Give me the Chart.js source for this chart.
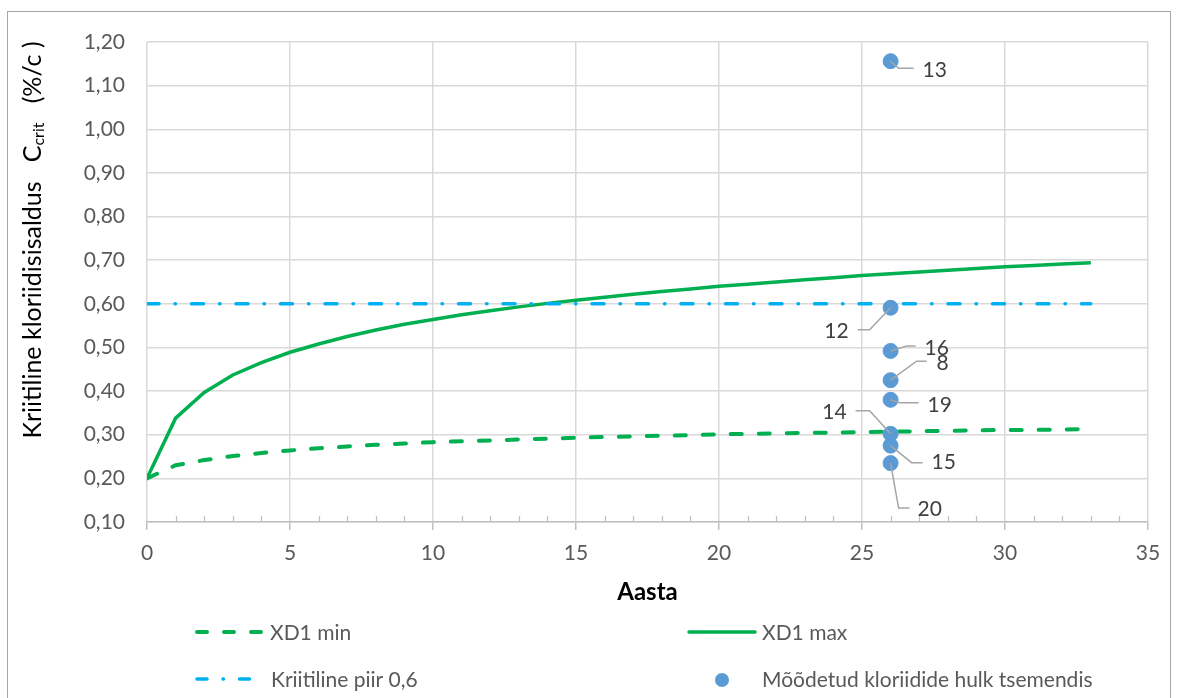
<!DOCTYPE html>
<html>
<head>
<meta charset="utf-8">
<script src="https://cdn.jsdelivr.net/npm/chart.js@4.4.1/dist/chart.umd.min.js"></script>
<style>
  html, body { margin: 0; padding: 0; background: #fff; }
  #wrap { width: 1178px; height: 698px; position: relative; }
</style>
</head>
<body>
<div id="wrap"><canvas id="kloriidChart"></canvas></div>
<script>
const years = [0, 1, 2, 3, 4, 5, 6, 7, 8, 9, 10, 11, 12, 13, 14, 15, 16,
  17, 18, 19, 20, 21, 22, 23, 24, 25, 26, 27, 28, 29, 30, 31, 32, 33];
const xd1Min = [0.200, 0.230, 0.242, 0.251, 0.258, 0.264, 0.269, 0.273, 0.277, 0.280,
  0.283, 0.285, 0.287, 0.289, 0.291, 0.293, 0.295, 0.296, 0.298, 0.299,
  0.301, 0.302, 0.303, 0.304, 0.305, 0.306, 0.307, 0.308, 0.309, 0.310,
  0.311, 0.311, 0.312, 0.313];
const xd1Max = [0.200, 0.338, 0.397, 0.437, 0.465, 0.489, 0.508, 0.525, 0.540, 0.553,
  0.564, 0.575, 0.584, 0.593, 0.601, 0.608, 0.615, 0.622, 0.628, 0.634,
  0.640, 0.645, 0.650, 0.655, 0.660, 0.665, 0.669, 0.673, 0.677, 0.681,
  0.685, 0.688, 0.691, 0.694];
const critLimit = years.map(() => 0.6);
const measuredYear = 26;
const measuredVals = [1.156, 0.591, 0.492, 0.425, 0.380, 0.302, 0.275, 0.235];
const measuredLabels = ["13", "12", "16", "8", "19", "14", "15", "20"];

const GREEN = "#00B050";
const BLUE = "#00B0F0";
const DOT = "#5B9BD5";
const FONT = "Lato, 'Open Sans', sans-serif";

// label placement: text offset + leader polyline (relative to point)
const labelPos = {
  "13": { tx: 32, ty: 9, align: "left", path: [[8, 7], [23, 7]] },
  "12": { tx: -42, ty: 23, align: "right", path: [[-21, 22], [-33, 22]] },
  "16": { tx: 34, ty: -3, align: "left", path: [[16, -5], [25, -5]] },
  "8": { tx: 46, ty: -17, align: "left", path: [[26, -19], [36, -19]] },
  "19": { tx: 37, ty: 5, align: "left", path: [[9, 3], [28, 3]] },
  "14": { tx: -44, ty: -22, align: "right", path: [[-21, -23], [-35, -23]] },
  "15": { tx: 41, ty: 17, align: "left", path: [[21, 17], [32, 17]] },
  "20": { tx: 27, ty: 46, align: "left", path: [[8, 45], [19, 45]] }
};

const toXY = (vals) => vals.map((v, i) => ({ x: years[i], y: v }));

const decorPlugin = {
  id: "decor",
  beforeDraw(chart) {
    const c = chart.ctx;
    c.save();
    c.fillStyle = "#fff";
    c.fillRect(0, 0, chart.width, chart.height);
    c.strokeStyle = "#A6A6A6";
    c.lineWidth = 1;
    c.strokeRect(7.5, 11.5, 1163, 700);
    c.restore();
  },
  afterDraw(chart) {
    const c = chart.ctx;
    const xs = chart.scales.x;
    const area = chart.chartArea;

    // minor ticks on x axis
    c.save();
    c.strokeStyle = "#BFBFBF";
    c.lineWidth = 1.2;
    for (let t = 1; t < 35; t++) {
      if (t % 5 === 0) continue;
      const px = Math.round(xs.getPixelForValue(t)) + 0.5;
      c.beginPath();
      c.moveTo(px, area.bottom - 6);
      c.lineTo(px, area.bottom);
      c.stroke();
    }
    c.restore();

    // point labels with leader lines
    const meta = chart.getDatasetMeta(0);
    c.save();
    c.font = "21px " + FONT;
    c.textBaseline = "middle";
    meta.data.forEach((el, i) => {
      const lab = measuredLabels[i];
      const p = labelPos[lab];
      c.strokeStyle = "#A6A6A6";
      c.lineWidth = 1.5;
      c.beginPath();
      c.moveTo(el.x, el.y);
      p.path.forEach(([dx, dy]) => c.lineTo(el.x + dx, el.y + dy));
      c.stroke();
      c.fillStyle = "#404040";
      c.textAlign = p.align;
      c.fillText(lab, el.x + p.tx, el.y + p.ty);
    });
    c.restore();

    // y axis title with subscript
    c.save();
    c.translate(33, 240);
    c.rotate(-Math.PI / 2);
    c.fillStyle = "#000";
    c.textBaseline = "middle";
    c.textAlign = "left";
    const big = "25px " + FONT, small = "16px " + FONT;
    const parts = [
      ["Kriitiline kloriidisisaldus   C", big, 0],
      ["crit", small, 6],
      ["   (%/c )", big, 0]
    ];
    let total = 0;
    parts.forEach(([t, f]) => { c.font = f; total += c.measureText(t).width; });
    let x = -total / 2;
    parts.forEach(([t, f, dy]) => {
      c.font = f;
      c.fillText(t, x, dy);
      x += c.measureText(t).width;
    });
    c.restore();

    // legend
    const ds = chart.data.datasets;
    c.save();
    c.font = "21px " + FONT;
    c.fillStyle = "#595959";
    c.textBaseline = "middle";
    c.textAlign = "left";
    const line = (d, x1, x2, y) => {
      c.strokeStyle = d.borderColor;
      c.lineWidth = d.borderWidth;
      c.lineCap = "round";
      c.setLineDash(d.legendDash || []);
      c.beginPath();
      c.moveTo(x1, y);
      c.lineTo(x2, y);
      c.stroke();
      c.setLineDash([]);
    };
    line(ds[3], 197, 262, 632);
    c.fillText(ds[3].label, 270, 633);
    line(ds[2], 689, 755, 632);
    c.fillText(ds[2].label, 762, 633);
    line(ds[1], 197, 252, 679);
    c.fillText(ds[1].label, 271, 680);
    c.fillStyle = DOT;
    c.beginPath();
    c.arc(722, 680, 7, 0, Math.PI * 2);
    c.fill();
    c.fillStyle = "#595959";
    c.fillText(ds[0].label, 762, 680);
    c.restore();
  }
};

new Chart(document.getElementById("kloriidChart").getContext("2d"), {
  type: "scatter",
  data: {
    datasets: [
      {
        label: "Mõõdetud kloriidide hulk tsemendis",
        data: measuredVals.map((v) => ({ x: measuredYear, y: v })),
        backgroundColor: DOT,
        borderColor: DOT,
        pointRadius: 7.5,
        pointHoverRadius: 7.5,
        order: 0
      },
      {
        label: "Kriitiline piir 0,6",
        data: toXY(critLimit),
        showLine: true,
        borderColor: BLUE,
        borderWidth: 3.5,
        borderDash: [12, 16, 0.5, 16],
        borderCapStyle: "round",
        legendDash: [10, 16, 0.5, 16],
        pointRadius: 0,
        order: 1
      },
      {
        label: "XD1 max",
        data: toXY(xd1Max),
        showLine: true,
        borderColor: GREEN,
        borderWidth: 3.5,
        pointRadius: 0,
        order: 2
      },
      {
        label: "XD1 min",
        data: toXY(xd1Min),
        showLine: true,
        borderColor: GREEN,
        borderWidth: 4,
        borderDash: [11, 17],
        borderCapStyle: "round",
        legendDash: [10, 17],
        pointRadius: 0,
        order: 3
      }
    ]
  },
  options: {
    responsive: true,
    maintainAspectRatio: false,
    animation: false,
    layout: { padding: { left: 0, top: 42, right: 30, bottom: 86 } },
    plugins: {
      legend: { display: false },
      tooltip: { enabled: false }
    },
    scales: {
      x: {
        type: "linear",
        min: 0,
        max: 35,
        afterFit: (s) => { s.height = 90; },
        ticks: {
          stepSize: 5,
          color: "#595959",
          font: { family: FONT, size: 21 },
          padding: 11,
          maxRotation: 0
        },
        grid: { color: "#D9D9D9", lineWidth: 1.5, tickLength: 8, tickColor: "#BFBFBF" },
        border: { color: "#BFBFBF", width: 1.5 },
        title: {
          display: true,
          text: "Aasta",
          color: "#000",
          font: { family: FONT, size: 24, weight: "bold" },
          padding: { top: 0, bottom: 5 }
        }
      },
      y: {
        min: 0.1,
        max: 1.2,
        afterFit: (s) => { s.width = 147; },
        ticks: {
          stepSize: 0.1,
          color: "#595959",
          font: { family: FONT, size: 21 },
          padding: 22,
          callback: (v) => v.toFixed(2).replace(".", ",")
        },
        grid: { color: "#D9D9D9", lineWidth: 1.5, drawTicks: false },
        border: { display: false }
      }
    }
  },
  plugins: [decorPlugin]
});
</script>
</body>
</html>
